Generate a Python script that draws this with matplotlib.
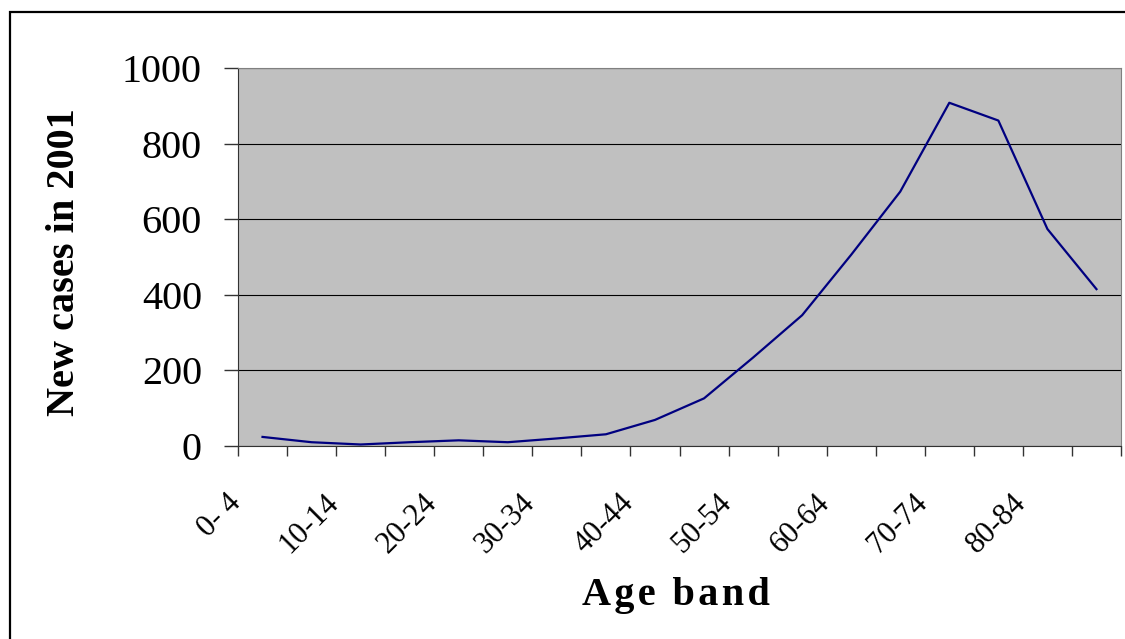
import numpy as np
import matplotlib
matplotlib.use('Agg')
import matplotlib.pyplot as plt
import matplotlib.transforms as mtransforms
from matplotlib.patches import Rectangle

age_bands = ['0- 4', '5-9', '10-14', '15-19', '20-24', '25-29', '30-34', '35-39',
             '40-44', '45-49', '50-54', '55-59', '60-64', '65-69', '70-74',
             '75-79', '80-84', '85+']
new_cases = [24, 10, 4, 10, 15, 10, 20, 31, 69, 126, 234, 346, 506, 673,
             908, 861, 574, 415]
y_ticks = [0, 200, 400, 600, 800, 1000]

plt.rcParams['font.family'] = ['Liberation Serif', 'DejaVu Serif']

W, H = 1125, 639
fig = plt.figure(figsize=(W / 100, H / 100), dpi=100)
ax = fig.add_axes([238 / W, 1 - 446 / H, (1121 - 238) / W, (446 - 68) / H])

n = len(age_bands)
x = np.arange(n) + 0.5
ax.plot(x, new_cases, color='#000080', lw=1.6)

ax.set_xlim(0, n)
ax.set_ylim(0, 1000)
ax.set_facecolor('#C0C0C0')

ax.set_yticks(y_ticks)
ax.set_yticklabels([str(v) for v in y_ticks], fontsize=29)
ax.grid(axis='y', color='black', lw=0.8)
ax.set_axisbelow(True)
ax.tick_params(axis='y', direction='out', length=10, width=1, pad=16, color='#333333')

# boundaries get tick marks, every other band gets a label
ax.set_xticks(np.arange(n + 1))
ax.set_xticklabels([])
ax.tick_params(axis='x', which='major', direction='out', length=7, width=1, color='#333333')
ax.set_xticks(x[::2], minor=True)
ax.set_xticklabels(age_bands[::2], minor=True, fontsize=22, rotation=45,
                   rotation_mode='anchor', ha='right', va='center')
ax.tick_params(axis='x', which='minor', length=0, pad=38)
shift = mtransforms.ScaledTranslation(-26 / 100, 0, fig.dpi_scale_trans)
for lab in ax.get_xticklabels(minor=True):
    lab.set_transform(lab.get_transform() + shift)

for side in ['top', 'right']:
    ax.spines[side].set_color('#808080')
for side in ['left', 'bottom']:
    ax.spines[side].set_color('#333333')

fig.text(65 / W, 1 - 262 / H, 'New cases in 2001', rotation=90, fontsize=29,
         fontweight='bold', ha='center', va='center')
fig.text(676 / W, 1 - 595 / H, '\u200a'.join('Age band'), fontsize=29,
         fontweight='bold', ha='center', va='center')

fig.patches.append(Rectangle((10 / W, -0.1), 1.2, 1 - 12 / H + 0.1,
                             transform=fig.transFigure, fill=False,
                             edgecolor='black', lw=1.6))

fig.savefig('out.png', dpi=100)
